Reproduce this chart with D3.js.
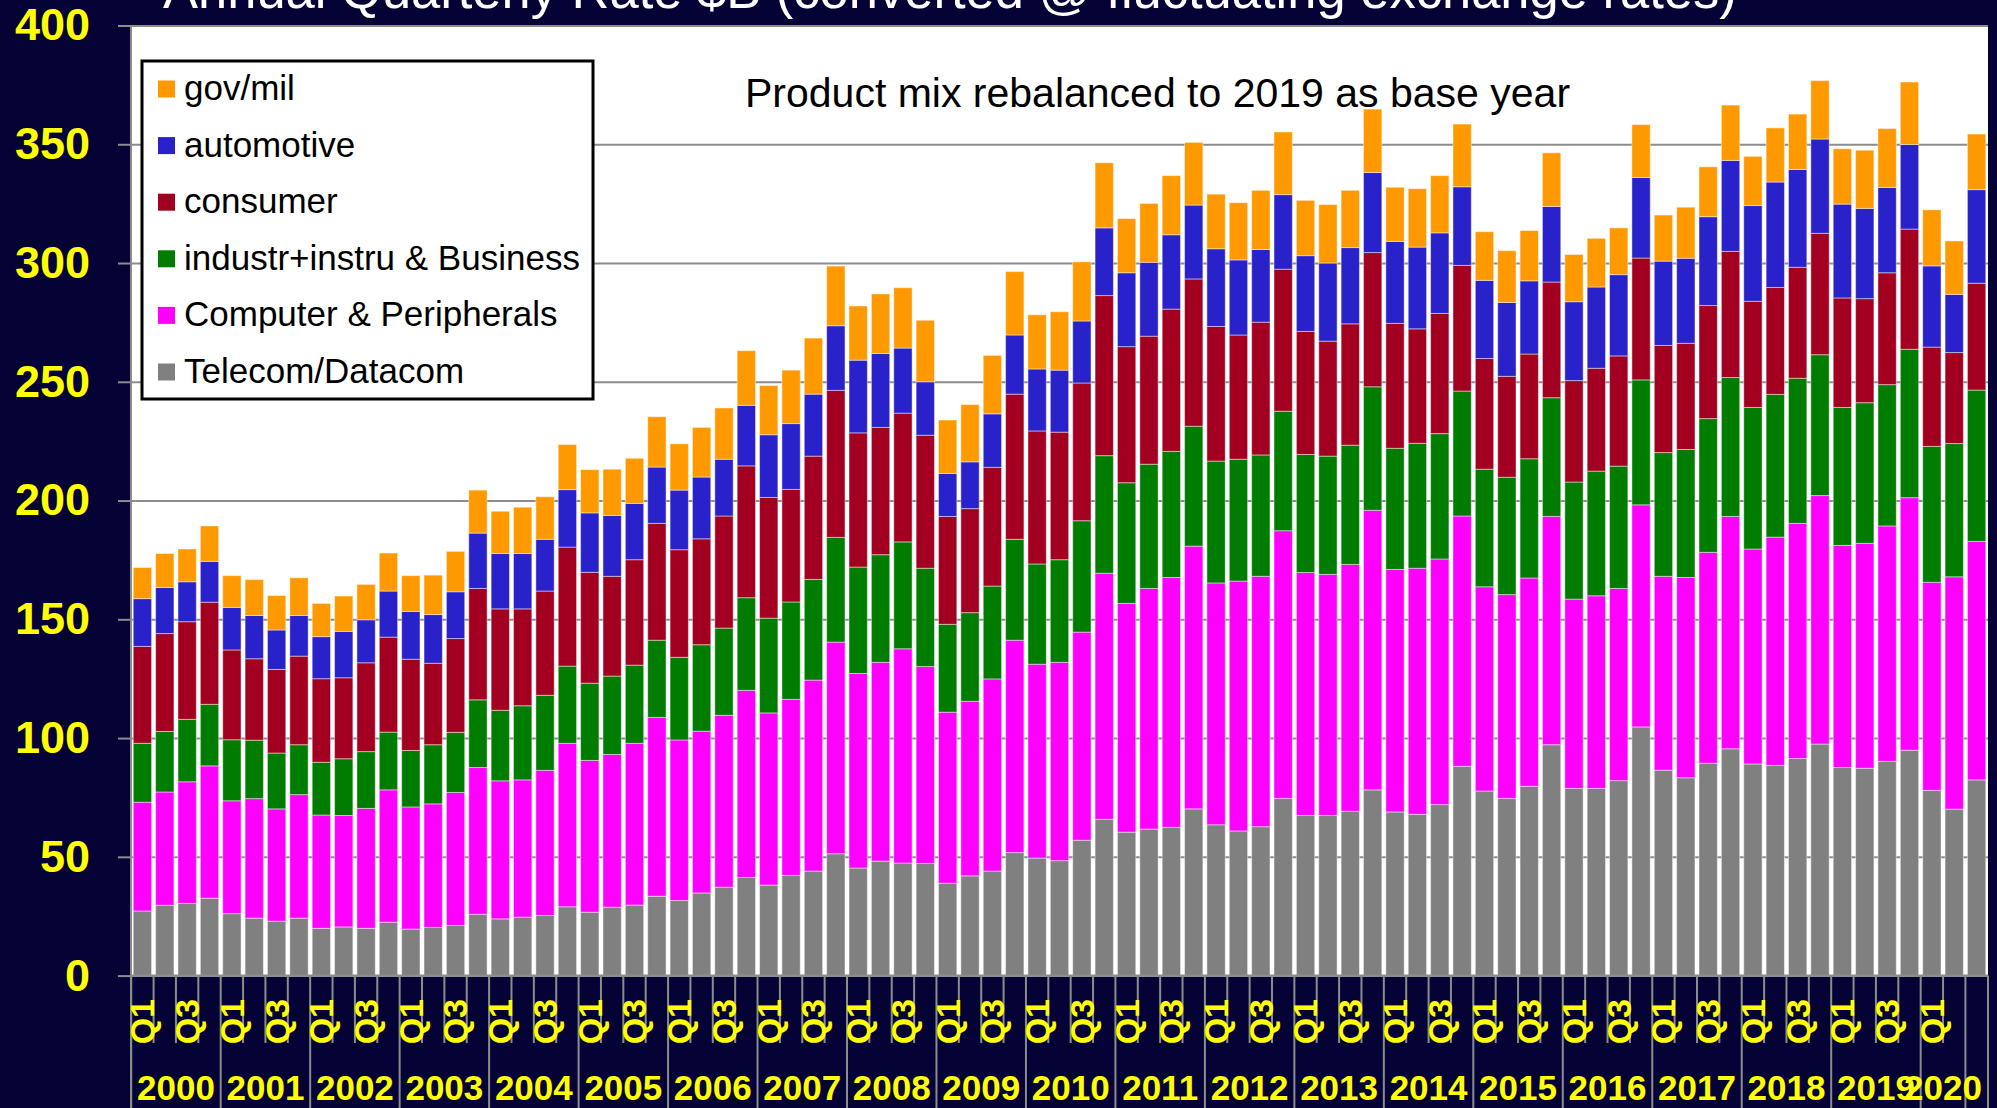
<!DOCTYPE html>
<html>
<head>
<meta charset="utf-8">
<script src="https://cdn.jsdelivr.net/npm/d3@7"></script>
<style>
  html, body { margin: 0; padding: 0; background: #050336; overflow: hidden; }
  svg { display: block; }
  text { font-family: "Liberation Sans", Arial, sans-serif; }
</style>
</head>
<body>
<svg id="chart"></svg>
<script>
// year groups on the category axis (last bar has no label in the source)
const yearLabels = ["2000", "2001", "2002", "2003", "2004", "2005", "2006", "2007", "2008", "2009",
  "2010", "2011", "2012", "2013", "2014", "2015", "2016", "2017", "2018", "2019", "2020", ""];
const barsPerYear = [4, 4, 4, 4, 4, 4, 4, 4, 4, 4, 4, 4, 4, 4, 4, 4, 4, 4, 4, 4, 2, 1];
const quarterNames = ["Q1", "Q2", "Q3", "Q4"];
const yTicks = [0, 50, 100, 150, 200, 250, 300, 350, 400];

// $B per quarter (bottom to top)
const telecom = [27.2, 29.6, 30.4, 32.6, 26.1, 24.2, 22.9, 24.2, 19.9, 20.5, 19.9, 22.5, 19.6, 20.3, 21.1, 25.8,
  23.9, 24.6, 25.3, 29.0, 26.7, 28.8, 29.7, 33.4, 31.6, 34.8, 37.2, 41.3, 38.1, 42.2, 44.0, 51.3,
  45.3, 48.2, 47.4, 47.2, 38.9, 42.0, 44.0, 51.8, 49.5, 48.4, 57.0, 65.8, 60.4, 61.7, 62.4, 70.2,
  63.5, 60.9, 62.7, 74.6, 67.4, 67.4, 69.2, 78.2, 68.9, 67.9, 72.0, 88.1, 77.7, 74.6, 79.7, 97.2,
  78.8, 78.8, 82.1, 104.7, 86.5, 83.3, 89.4, 95.5, 89.1, 88.5, 91.4, 97.5, 87.6, 87.3, 90.2, 94.9,
  78.0, 70.1, 82.4];
const computer = [45.8, 47.7, 51.2, 55.7, 47.5, 50.3, 47.3, 52.0, 47.7, 46.9, 50.5, 55.7, 51.4, 52.0, 56.0, 61.8,
  58.1, 57.8, 61.1, 68.8, 63.9, 64.3, 68.1, 75.3, 67.6, 68.1, 72.4, 78.8, 72.5, 74.1, 80.4, 89.1,
  81.9, 83.7, 90.2, 82.9, 72.0, 73.5, 80.9, 89.4, 81.6, 83.5, 87.6, 103.6, 96.3, 101.3, 105.2, 110.6,
  101.8, 105.2, 105.4, 112.7, 102.3, 101.5, 103.9, 117.7, 102.1, 103.6, 103.4, 105.4, 86.0, 85.8, 87.7, 96.1,
  79.7, 81.1, 80.9, 93.5, 81.6, 84.3, 88.8, 97.8, 90.5, 96.1, 99.0, 104.6, 93.5, 94.7, 99.1, 106.3,
  87.6, 97.8, 100.4];
const industr = [24.8, 25.5, 26.3, 25.9, 25.7, 24.6, 23.5, 21.0, 22.2, 23.9, 23.9, 24.3, 23.8, 24.9, 25.3, 28.5,
  29.7, 31.2, 31.6, 32.5, 32.5, 33.0, 32.9, 32.5, 34.8, 36.4, 36.7, 39.0, 39.9, 41.0, 42.4, 44.1,
  44.8, 45.3, 45.0, 41.4, 37.0, 37.3, 39.1, 42.5, 42.2, 43.2, 46.9, 49.5, 50.8, 52.3, 53.1, 50.5,
  51.3, 51.3, 51.1, 50.3, 49.7, 49.8, 50.2, 52.0, 51.0, 52.6, 52.8, 52.6, 49.5, 49.4, 50.2, 50.0,
  49.3, 52.5, 51.5, 52.6, 52.1, 53.9, 56.3, 58.5, 59.6, 60.1, 61.1, 59.3, 58.1, 59.2, 59.5, 62.5,
  57.2, 56.1, 63.7];
const consumer = [40.8, 41.2, 41.1, 43.0, 37.8, 34.3, 35.2, 37.3, 35.2, 34.1, 37.4, 40.0, 38.4, 34.3, 39.5, 46.9,
  42.7, 40.8, 43.9, 50.1, 46.7, 42.0, 44.4, 49.2, 45.3, 44.6, 47.2, 55.5, 50.8, 47.4, 51.9, 61.9,
  56.5, 53.6, 54.2, 56.0, 45.4, 43.8, 50.0, 61.1, 56.0, 53.7, 58.0, 67.4, 57.3, 53.9, 59.9, 62.0,
  56.7, 52.3, 55.9, 59.8, 51.8, 48.4, 51.1, 56.5, 52.6, 48.2, 50.6, 52.9, 46.6, 42.5, 44.1, 48.7,
  42.7, 43.3, 46.4, 51.3, 45.1, 44.7, 47.6, 53.1, 44.7, 45.0, 46.7, 51.1, 46.1, 43.8, 47.1, 50.6,
  41.8, 38.3, 45.0];
const automotive = [20.1, 19.4, 16.8, 17.2, 17.9, 18.2, 16.6, 17.1, 17.7, 19.5, 18.1, 19.4, 20.1, 20.5, 19.7, 23.3,
  23.3, 23.3, 21.8, 24.2, 25.0, 25.6, 23.7, 23.7, 25.1, 26.0, 23.9, 25.5, 26.4, 27.7, 26.1, 27.2,
  30.6, 31.1, 27.4, 22.5, 18.1, 19.7, 22.5, 24.9, 26.1, 26.1, 26.1, 28.5, 31.1, 31.1, 31.3, 31.1,
  32.7, 31.6, 30.6, 31.4, 31.9, 32.9, 32.1, 33.7, 34.5, 34.4, 33.9, 33.1, 32.9, 31.1, 30.8, 31.8,
  33.2, 34.2, 34.2, 33.9, 35.5, 35.8, 37.4, 38.3, 40.3, 44.4, 41.2, 39.7, 39.5, 38.0, 35.9, 35.6,
  34.2, 24.5, 39.4];
const govmil = [13.1, 14.3, 13.8, 14.9, 13.4, 15.1, 14.5, 15.9, 14.0, 14.9, 14.9, 16.0, 15.1, 16.6, 17.0, 18.1,
  17.8, 19.5, 17.9, 19.0, 18.2, 19.5, 19.0, 21.2, 19.5, 20.9, 21.6, 23.0, 20.7, 22.5, 23.6, 25.1,
  22.8, 25.1, 25.4, 25.9, 22.5, 24.1, 24.6, 26.7, 22.8, 24.6, 24.9, 27.4, 22.8, 24.8, 24.9, 26.4,
  23.0, 24.1, 24.9, 26.4, 23.3, 24.6, 24.1, 26.7, 22.8, 24.6, 24.1, 26.4, 20.5, 21.8, 21.2, 22.6,
  19.9, 20.5, 19.7, 22.3, 19.4, 21.5, 21.0, 23.3, 20.7, 22.8, 23.3, 24.6, 23.3, 24.5, 24.8, 26.3,
  23.6, 22.5, 23.4];

const seriesKeys = ["telecom", "computer", "industr", "consumer", "automotive", "govmil"];
const seriesNames = ["Telecom/Datacom", "Computer & Peripherals", "industr+instru & Business", "consumer", "automotive", "gov/mil"];
const seriesColors = ["#808080", "#ff00ff", "#007d00", "#a30021", "#2921c9", "#ff9900"];
const seriesValues = [telecom, computer, industr, consumer, automotive, govmil];

const width = 1997;
const height = 1108;
const plot = { left: 131, right: 1988, top: 25.5, bottom: 975.6 };
const navy = "#050336";
const yellow = "#ffff00";
const gridGray = "#8c8c8c";

// categories: one per bar
const categories = [];
yearLabels.forEach((year, g) => {
  for (let q = 0; q < barsPerYear[g]; q++) {
    categories.push({ year, quarter: year ? quarterNames[q] : "", group: g });
  }
});

const rows = categories.map((c, i) => {
  const row = { index: i };
  seriesKeys.forEach((k, s) => (row[k] = seriesValues[s][i]));
  return row;
});

const svg = d3.select("#chart").attr("width", width).attr("height", height);

svg.append("rect").attr("width", width).attr("height", height).attr("fill", navy);
svg
  .append("rect")
  .attr("x", plot.left)
  .attr("y", plot.top)
  .attr("width", plot.right - plot.left)
  .attr("height", plot.bottom - plot.top)
  .attr("fill", "#ffffff");

const x = d3
  .scaleBand()
  .domain(d3.range(categories.length))
  .range([plot.left, plot.right])
  .paddingInner(0.18)
  .paddingOuter(0.1);
const y = d3.scaleLinear().domain([0, 400]).range([plot.bottom, plot.top]);

// gridlines + outside tick marks
const grid = svg.append("g").attr("transform", `translate(${plot.left},0)`);
grid
  .call(d3.axisLeft(y).tickValues(yTicks).tickSize(-(plot.right - plot.left)).tickFormat(() => ""))
  .call((g) => g.select(".domain").remove())
  .call((g) => g.selectAll("line").attr("stroke", gridGray).attr("stroke-width", 2));

const yAxis = svg.append("g").attr("transform", `translate(${plot.left},0)`);
yAxis
  .call(d3.axisLeft(y).tickValues(yTicks).tickSize(13).tickPadding(28))
  .call((g) => g.select(".domain").remove())
  .call((g) => g.selectAll("line").attr("stroke", gridGray).attr("stroke-width", 2))
  .call((g) =>
    g
      .selectAll("text")
      .attr("fill", yellow)
      .attr("font-size", 45)
      .attr("font-weight", "bold")
      .attr("font-family", '"Liberation Sans", Arial, sans-serif')
  );

// stacked bars
const stacked = d3.stack().keys(seriesKeys)(rows);
svg
  .append("g")
  .selectAll("g")
  .data(stacked)
  .join("g")
  .attr("fill", (d, s) => seriesColors[s])
  .selectAll("rect")
  .data((d) => d)
  .join("rect")
  .attr("x", (d) => x(d.data.index))
  .attr("width", x.bandwidth())
  .attr("y", (d) => y(d[1]))
  .attr("height", (d) => y(d[0]) - y(d[1]))
  .attr("stroke", "rgba(255,255,255,0.45)")
  .attr("stroke-width", 1);

// axis lines
svg
  .append("line")
  .attr("x1", plot.left)
  .attr("x2", plot.left)
  .attr("y1", plot.top)
  .attr("y2", height)
  .attr("stroke", gridGray)
  .attr("stroke-width", 2);
svg
  .append("line")
  .attr("x1", plot.left)
  .attr("x2", plot.right)
  .attr("y1", plot.bottom)
  .attr("y2", plot.bottom)
  .attr("stroke", gridGray)
  .attr("stroke-width", 2);

// category ticks: short between quarters, long between year groups
const boundary = (i) => (i >= categories.length ? plot.right : x(i) - (x.step() * x.paddingInner()) / 2);
const ticks = d3.range(categories.length + 1).map((i) => ({
  x: boundary(i),
  long: i === 0 || i === categories.length || categories[i].group !== categories[i - 1].group,
}));
svg
  .append("g")
  .selectAll("line")
  .data(ticks)
  .join("line")
  .attr("x1", (d) => d.x)
  .attr("x2", (d) => d.x)
  .attr("y1", plot.bottom)
  .attr("y2", (d) => (d.long ? height : 1043))
  .attr("stroke", gridGray)
  .attr("stroke-width", 2);

// quarter labels (every second category, like the source)
svg
  .append("g")
  .selectAll("text")
  .data(categories.map((c, i) => ({ ...c, i })).filter((d) => d.i % 2 === 0 && d.quarter))
  .join("text")
  .attr("transform", (d) => `translate(${x(d.i) + x.bandwidth() / 2},999) rotate(-90)`)
  .attr("text-anchor", "end")
  .attr("dy", "0.35em")
  .attr("fill", yellow)
  .attr("font-size", 34)
  .attr("font-weight", "bold")
  .text((d) => d.quarter);

// year labels centred in their groups
const groups = yearLabels.map((year, g) => {
  const idx = categories.map((c, i) => (c.group === g ? i : -1)).filter((i) => i >= 0);
  return { year, x0: boundary(idx[0]), x1: boundary(idx[idx.length - 1] + 1) };
});
svg
  .append("g")
  .selectAll("text")
  .data(groups.filter((d) => d.year))
  .join("text")
  .attr("x", (d) => (d.x0 + d.x1) / 2)
  .attr("y", 1100)
  .attr("text-anchor", "middle")
  .attr("fill", yellow)
  .attr("font-size", 35)
  .attr("font-weight", "bold")
  .text((d) => d.year);

// legend
const legend = svg.append("g");
legend
  .append("rect")
  .attr("x", 142)
  .attr("y", 61)
  .attr("width", 451)
  .attr("height", 338)
  .attr("fill", "#ffffff")
  .attr("stroke", "#000000")
  .attr("stroke-width", 3);
const legendItems = seriesNames.map((name, s) => ({ name, color: seriesColors[s] })).reverse();
const legendRow = legend
  .selectAll("g.item")
  .data(legendItems)
  .join("g")
  .attr("class", "item")
  .attr("transform", (d, i) => `translate(0,${89 + i * 56.6})`);
legendRow.append("rect").attr("x", 158).attr("y", -8.5).attr("width", 17).attr("height", 17).attr("fill", (d) => d.color);
legendRow
  .append("text")
  .attr("x", 184)
  .attr("y", 11)
  .attr("font-size", 35)
  .attr("fill", "#000000")
  .text((d) => d.name);

// note inside the plot
svg
  .append("text")
  .attr("x", 745)
  .attr("y", 107)
  .attr("font-size", 41)
  .attr("fill", "#000000")
  .text("Product mix rebalanced to 2019 as base year");

// title, cut off by the top edge as in the source
svg
  .append("text")
  .attr("x", 163)
  .attr("y", 8)
  .attr("font-size", 52.5)
  .attr("fill", "#ffffff")
  .text("Annual Quarterly Rate $B (converted @ fluctuating exchange rates)");
</script>
</body>
</html>
